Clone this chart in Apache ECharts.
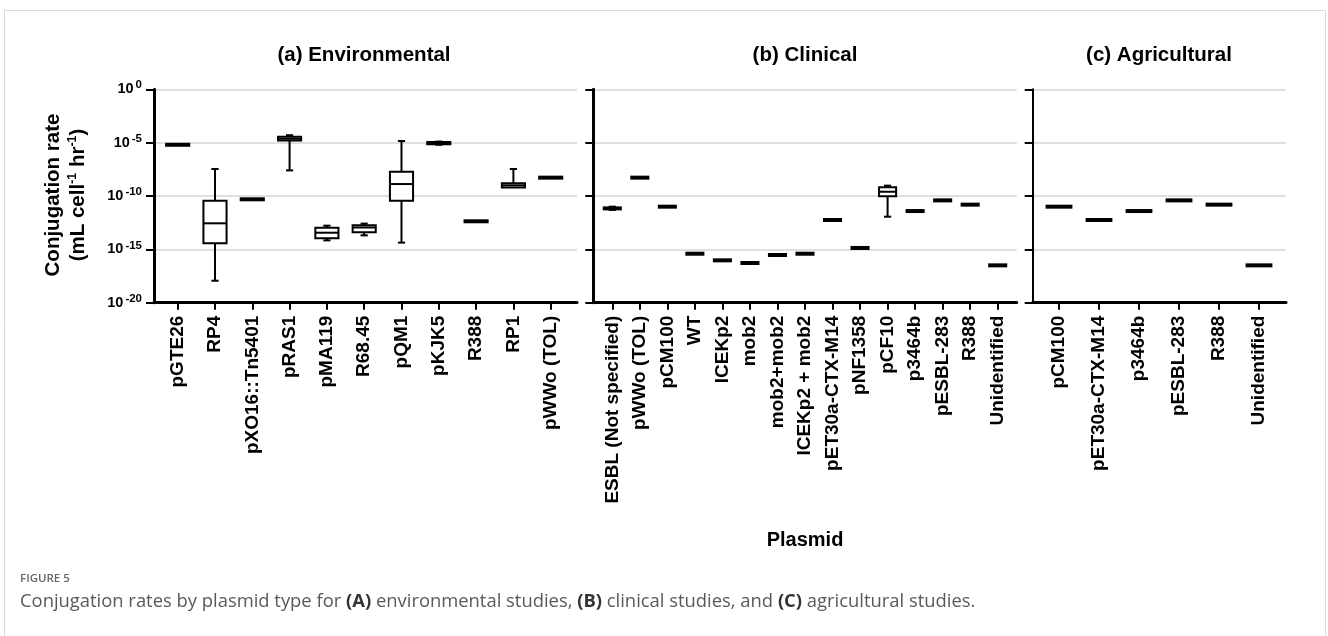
<!DOCTYPE html>
<html>
<head>
<meta charset="utf-8">
<title>Conjugation rates by plasmid type</title>
<script src="https://cdn.jsdelivr.net/npm/echarts@6/dist/echarts.min.js"></script>
<style>
  html, body { margin: 0; padding: 0; background: #fff; }
  #main { width: 1328px; height: 636px; }
</style>
</head>
<body>
<div id="main"></div>
<script>
// values are log10 of the conjugation rate, [min, q1, median, q3, max]
var envNames = ['pGTE26', 'RP4', 'pXO16::Tn5401', 'pRAS1', 'pMA119', 'R68.45', 'pQM1', 'pKJK5', 'R388', 'RP1', 'pWWo (TOL)'];
var envStats = [
    [-5.2, -5.2, -5.2, -5.2, -5.2],
    [-17.94, -14.44, -12.56, -10.44, -7.47],
    [-10.31, -10.31, -10.31, -10.31, -10.31],
    [-7.6, -4.8, -4.63, -4.45, -4.3],
    [-14.16, -13.97, -13.44, -12.97, -12.78],
    [-13.69, -13.4, -12.95, -12.75, -12.59],
    [-14.37, -10.44, -8.88, -7.72, -4.85],
    [-5.2, -5.15, -5.05, -4.95, -4.9],
    [-12.37, -12.37, -12.37, -12.37, -12.37],
    [-9.2, -9.2, -9.0, -8.8, -7.47],
    [-8.28, -8.28, -8.28, -8.28, -8.28]
];

var clinNames = ['ESBL (Not specified)', 'pWWo (TOL)', 'pCM100', 'WT', 'ICEKp2', 'mob2', 'mob2+mob2', 'ICEKp2 + mob2', 'pET30a-CTX-M14', 'pNF1358', 'pCF10', 'p3464b', 'pESBL-283', 'R388', 'Unidentified'];
var clinStats = [
    [-11.3, -11.22, -11.16, -11.1, -11.0],
    [-8.28, -8.28, -8.28, -8.28, -8.28],
    [-11.0, -11.0, -11.0, -11.0, -11.0],
    [-15.41, -15.41, -15.41, -15.41, -15.41],
    [-16.03, -16.03, -16.03, -16.03, -16.03],
    [-16.28, -16.28, -16.28, -16.28, -16.28],
    [-15.53, -15.53, -15.53, -15.53, -15.53],
    [-15.41, -15.41, -15.41, -15.41, -15.41],
    [-12.25, -12.25, -12.25, -12.25, -12.25],
    [-14.87, -14.87, -14.87, -14.87, -14.87],
    [-11.94, -10.03, -9.6, -9.19, -9.03],
    [-11.41, -11.41, -11.41, -11.41, -11.41],
    [-10.41, -10.41, -10.41, -10.41, -10.41],
    [-10.81, -10.81, -10.81, -10.81, -10.81],
    [-16.5, -16.5, -16.5, -16.5, -16.5]
];

var agriNames = ['pCM100', 'pET30a-CTX-M14', 'p3464b', 'pESBL-283', 'R388', 'Unidentified'];
var agriStats = [
    [-11.0, -11.0, -11.0, -11.0, -11.0],
    [-12.25, -12.25, -12.25, -12.25, -12.25],
    [-11.41, -11.41, -11.41, -11.41, -11.41],
    [-10.41, -10.41, -10.41, -10.41, -10.41],
    [-10.81, -10.81, -10.81, -10.81, -10.81],
    [-16.5, -16.5, -16.5, -16.5, -16.5]
];

(function() {
    var FONT = "'Liberation Sans', Arial, Helvetica, sans-serif";
    var myChart = echarts.init(document.getElementById('main'));

    // 盒须图：须 + 盒 + 中位线，单值时画成粗短横
    function renderBox(params, api) {
        var x = api.value(0);
        var lo = api.coord([x, api.value(1)]);
        var q1 = api.coord([x, api.value(2)]);
        var md = api.coord([x, api.value(3)]);
        var q3 = api.coord([x, api.value(4)]);
        var hi = api.coord([x, api.value(5)]);
        var band = api.size([1, 0])[0];
        var w = band * 0.62;
        var cx = lo[0];
        var cap = 3.6;
        var line = { stroke: '#000', lineWidth: 2 };
        var children = [];
        if (hi[1] < q3[1] - 0.5) {
            children.push({ type: 'line', shape: { x1: cx, y1: q3[1], x2: cx, y2: hi[1] }, style: line });
            children.push({ type: 'line', shape: { x1: cx - cap, y1: hi[1], x2: cx + cap, y2: hi[1] }, style: line });
        }
        if (lo[1] > q1[1] + 0.5) {
            children.push({ type: 'line', shape: { x1: cx, y1: q1[1], x2: cx, y2: lo[1] }, style: line });
            children.push({ type: 'line', shape: { x1: cx - cap, y1: lo[1], x2: cx + cap, y2: lo[1] }, style: line });
        }
        var top = q3[1], h = q1[1] - q3[1];
        if (h < 2) {
            top = (q1[1] + q3[1]) / 2 - 1;
            h = 2;
        }
        children.push({
            type: 'rect',
            shape: { x: cx - w / 2, y: top, width: w, height: h },
            style: { fill: '#fff', stroke: '#000', lineWidth: 2 }
        });
        children.push({ type: 'line', shape: { x1: cx - w / 2, y1: md[1], x2: cx + w / 2, y2: md[1] }, style: line });
        return { type: 'group', children: children };
    }

    function toData(stats) {
        return stats.map(function(s, i) {
            return [i].concat(s);
        });
    }

    function idx(n) {
        var a = [];
        for (var i = 0; i < n; i++) a.push(i);
        return a;
    }

    function xAxisFor(grid, names, min, max) {
        return {
            type: 'value',
            gridIndex: grid,
            min: min,
            max: max,
            splitLine: { show: false },
            axisLine: { show: true, onZero: false, lineStyle: { color: '#000', width: 3 } },
            axisTick: { show: true, customValues: idx(names.length), length: 7, lineStyle: { color: '#000', width: 2 } },
            axisLabel: {
                customValues: idx(names.length),
                rotate: 90,
                margin: 13,
                color: '#000',
                fontFamily: FONT,
                fontWeight: 'bold',
                fontSize: 19,
                formatter: function(v) {
                    return names[Math.round(v)];
                }
            }
        };
    }

    function yAxisFor(grid, showLabel, lw) {
        return {
            type: 'value',
            gridIndex: grid,
            min: -20,
            max: 0,
            interval: 5,
            axisLine: { show: true, onZero: false, lineStyle: { color: '#000', width: lw } },
            axisTick: { show: true, length: 8, lineStyle: { color: '#000', width: 2 } },
            splitLine: { show: true, lineStyle: { color: '#d4d4d4', width: 1.5 } },
            axisLabel: {
                show: showLabel,
                margin: 12,
                formatter: function(v) {
                    return '{b|10}{s|' + v + '}';
                },
                rich: {
                    b: { fontFamily: FONT, fontWeight: 'bold', fontSize: 14.5, color: '#000', lineHeight: 20 },
                    s: { fontFamily: FONT, fontWeight: 'bold', fontSize: 11.5, color: '#000', lineHeight: 14, verticalAlign: 'top', padding: [0, 0, 0, 2] }
                }
            }
        };
    }

    var titleStyle = { fontFamily: FONT, fontWeight: 'bold', fontSize: 20.5, color: '#000' };

    option = {
        backgroundColor: '#fff',
        animation: false,
        title: [
            { text: '(a) Environmental', left: 364, top: 45, textAlign: 'center', padding: 0, textStyle: titleStyle },
            { text: '(b) Clinical', left: 805, top: 45, textAlign: 'center', padding: 0, textStyle: titleStyle },
            { text: '(c) Agricultural', left: 1159, top: 45, textAlign: 'center', padding: 0, textStyle: titleStyle },
            { text: 'Plasmid', left: 805, top: 530, textAlign: 'center', padding: 0, textStyle: { fontFamily: FONT, fontWeight: 'bold', fontSize: 20, color: '#000' } }
        ],
        grid: [
            { left: 154, top: 89.3, width: 423, height: 213.4 },
            { left: 593.3, top: 89.3, width: 423.4, height: 213.4 },
            { left: 1032.7, top: 89.3, width: 253.3, height: 213.4 }
        ],
        xAxis: [
            xAxisFor(0, envNames, -0.635, 10.705),
            xAxisFor(1, clinNames, -0.69, 14.69),
            xAxisFor(2, agriNames, -0.6575, 5.675)
        ],
        yAxis: [
            yAxisFor(0, true, 3),
            yAxisFor(1, false, 3),
            yAxisFor(2, false, 2)
        ],
        series: [
            { type: 'custom', xAxisIndex: 0, yAxisIndex: 0, renderItem: renderBox, data: toData(envStats), encode: { x: 0, y: [1, 2, 3, 4, 5] } },
            { type: 'custom', xAxisIndex: 1, yAxisIndex: 1, renderItem: renderBox, data: toData(clinStats), encode: { x: 0, y: [1, 2, 3, 4, 5] } },
            { type: 'custom', xAxisIndex: 2, yAxisIndex: 2, renderItem: renderBox, data: toData(agriStats), encode: { x: 0, y: [1, 2, 3, 4, 5] } }
        ],
        graphic: [
            {
                type: 'rect',
                shape: { x: 4.5, y: 10.5, width: 1321, height: 700 },
                style: { fill: 'none', stroke: '#d9d9d9', lineWidth: 1 },
                silent: true
            },
            {
                type: 'text',
                x: 66,
                y: 195,
                rotation: Math.PI / 2,
                style: {
                    text: '{t|Conjugation rate}\n{t|(mL cell}{s|-1}{t| hr}{s|-1}{t|)}',
                    align: 'center',
                    verticalAlign: 'middle',
                    textAlign: 'center',
                    textVerticalAlign: 'middle',
                    rich: {
                        t: { fontFamily: FONT, fontWeight: 'bold', fontSize: 20.5, fill: '#000', lineHeight: 25 },
                        s: { fontFamily: FONT, fontWeight: 'bold', fontSize: 12.5, fill: '#000', lineHeight: 15, verticalAlign: 'top' }
                    }
                }
            },
            {
                type: 'text',
                x: 20,
                y: 579,
                style: {
                    text: 'FIGURE 5',
                    verticalAlign: 'middle',
                    textVerticalAlign: 'middle',
                    font: "600 11.5px 'Open Sans', sans-serif",
                    fill: '#666'
                }
            },
            {
                type: 'text',
                x: 20,
                y: 602,
                style: {
                    text: '{n|Conjugation rates by plasmid type for }{k|(A)}{n| environmental studies, }{k|(B)}{n| clinical studies, and }{k|(C)}{n| agricultural studies.}',
                    verticalAlign: 'middle',
                    textVerticalAlign: 'middle',
                    rich: {
                        n: { fontFamily: "'Open Sans', sans-serif", fontSize: 18.4, fill: '#595959' },
                        k: { fontFamily: "'Open Sans', sans-serif", fontSize: 18.4, fontWeight: 'bold', fill: '#333' }
                    }
                }
            }
        ]
    };

    myChart.setOption(option);
})();
</script>
</body>
</html>
